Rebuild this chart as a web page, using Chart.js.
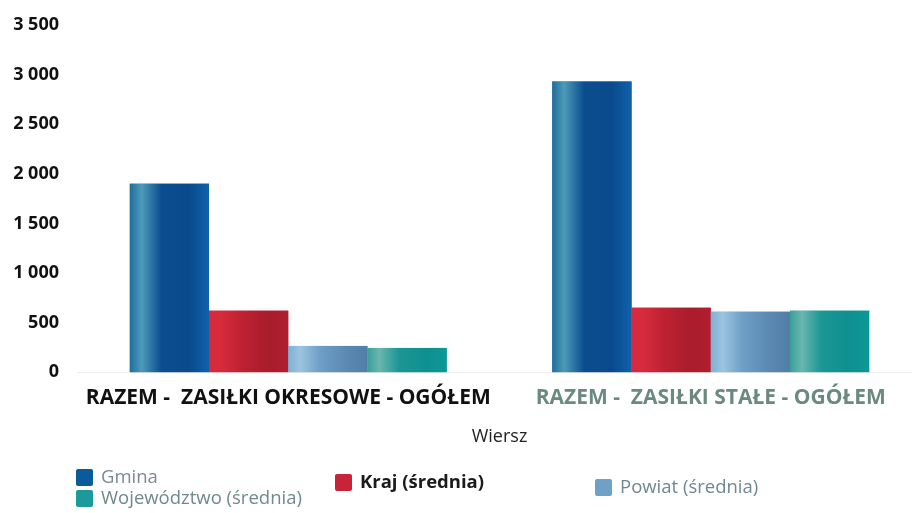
<!DOCTYPE html>
<html>
<head>
<meta charset="utf-8">
<script src="https://cdn.jsdelivr.net/npm/chart.js@4/dist/chart.umd.min.js"></script>
<style>
  html, body { margin: 0; padding: 0; background: #fff; overflow: hidden; }
  #wrap { position: relative; width: 922px; height: 513px; }
  .leg { position: absolute; font-family: 'Open Sans', sans-serif; font-size: 18.5px; white-space: nowrap; }
  .leg i { display: inline-block; width: 17px; height: 17px; vertical-align: -3px; margin-right: 8px; border-radius: 2px; }
</style>
</head>
<body>
<div id="wrap">
  <canvas id="chart" width="922" height="513"></canvas>
</div>
<script>
// data
const categories = ['RAZEM -  ZASIŁKI OKRESOWE - OGÓŁEM', 'RAZEM -  ZASIŁKI STAŁE - OGÓŁEM'];
const seriesNames = ['Gmina', 'Kraj (średnia)', 'Powiat (średnia)', 'Województwo (średnia)'];
const gmina = [1900, 2930];
const kraj = [620, 650];
const powiat = [265, 610];
const wojewodztwo = [245, 620];
const yTicks = [0, 500, 1000, 1500, 2000, 2500, 3000, 3500];

// colours: flat one for legend, gradient stops for the bars
const palette = [
  { base: '#0b5a9c', stops: ['#1f6e9c', '#4c9bb8', '#0b4d8e', '#0a4a8c', '#1161ab'] },
  { base: '#c8233a', stops: ['#d8293d', '#d62b3d', '#c02232', '#a81c2c', '#b01e30'] },
  { base: '#6fa0c8', stops: ['#7fb0d4', '#9cc4e0', '#6e9fc6', '#5a88b0', '#4f7ea8'] },
  { base: '#1a9a9a', stops: ['#3a9f9a', '#6ab6ae', '#1b9694', '#0e9090', '#0c9898'] }
];

// legend placement like the original (irregular)
const legendPos = [
  { left: 76, top: 463, color: '#7a8a90', weight: 'normal' },
  { left: 335, top: 468, color: '#1a1a1a', weight: 'bold' },
  { left: 595, top: 473, color: '#6f8790', weight: 'normal' },
  { left: 76, top: 484, color: '#6f8a88', weight: 'normal' }
];

const fmt = v => String(v).replace(/\B(?=(\d{3})+(?!\d))/g, ' ');

// repaint every bar with a horizontal gradient
const barShade = {
  id: 'barShade',
  afterDatasetsDraw(chart) {
    const ctx = chart.ctx;
    chart.data.datasets.forEach((ds, i) => {
      const stops = palette[i].stops;
      chart.getDatasetMeta(i).data.forEach(el => {
        const x0 = el.x - el.width / 2, x1 = el.x + el.width / 2;
        const g = ctx.createLinearGradient(x0, 0, x1, 0);
        g.addColorStop(0, stops[0]);
        g.addColorStop(0.15, stops[1]);
        g.addColorStop(0.4, stops[2]);
        g.addColorStop(0.75, stops[3]);
        g.addColorStop(1, stops[4]);
        ctx.save();
        ctx.fillStyle = g;
        ctx.fillRect(x0, el.y, el.width, el.base - el.y);
        ctx.restore();
      });
    });
  }
};

const values = [gmina, kraj, powiat, wojewodztwo];

new Chart(document.getElementById('chart'), {
  type: 'bar',
  data: {
    labels: categories,
    datasets: seriesNames.map((name, i) => ({
      label: name,
      data: values[i],
      backgroundColor: palette[i].base,
      borderWidth: 0,
      barPercentage: 1,
      categoryPercentage: 0.75
    }))
  },
  options: {
    responsive: false,
    animation: false,
    layout: { padding: { top: 25, right: 0, bottom: 65, left: 0 } },
    plugins: {
      legend: { display: false },
      tooltip: { enabled: false }
    },
    scales: {
      x: {
        grid: { display: false },
        border: { display: true, color: '#eeeeee' },
        ticks: {
          padding: 5,
          maxRotation: 0,
          autoSkip: false,
          font: { family: 'Open Sans', size: 21, weight: 'bold' },
          color: ctx => ctx.index === 0 ? '#111111' : '#6a8a80'
        },
        title: {
          display: true,
          text: 'Wiersz',
          font: { family: 'Open Sans', size: 18 },
          color: '#222222',
          padding: { top: 11, bottom: 0 }
        }
      },
      y: {
        min: 0,
        max: 3500,
        afterFit(scale) { scale.width = 77; },
        afterBuildTicks(scale) { scale.ticks = yTicks.map(v => ({ value: v })); },
        grid: { display: false },
        border: { display: false },
        ticks: {
          padding: 10,
          font: { family: 'Open Sans', size: 18, weight: 'bold' },
          color: '#111111',
          callback: v => fmt(v)
        }
      }
    }
  },
  plugins: [barShade]
});

// html legend
const wrap = document.getElementById('wrap');
seriesNames.forEach((name, i) => {
  const p = legendPos[i];
  const d = document.createElement('div');
  d.className = 'leg';
  d.style.left = p.left + 'px';
  d.style.top = p.top + 'px';
  d.style.color = p.color;
  d.style.fontWeight = p.weight;
  const sw = document.createElement('i');
  sw.style.background = palette[i].base;
  d.appendChild(sw);
  d.appendChild(document.createTextNode(name));
  wrap.appendChild(d);
});
</script>
</body>
</html>
